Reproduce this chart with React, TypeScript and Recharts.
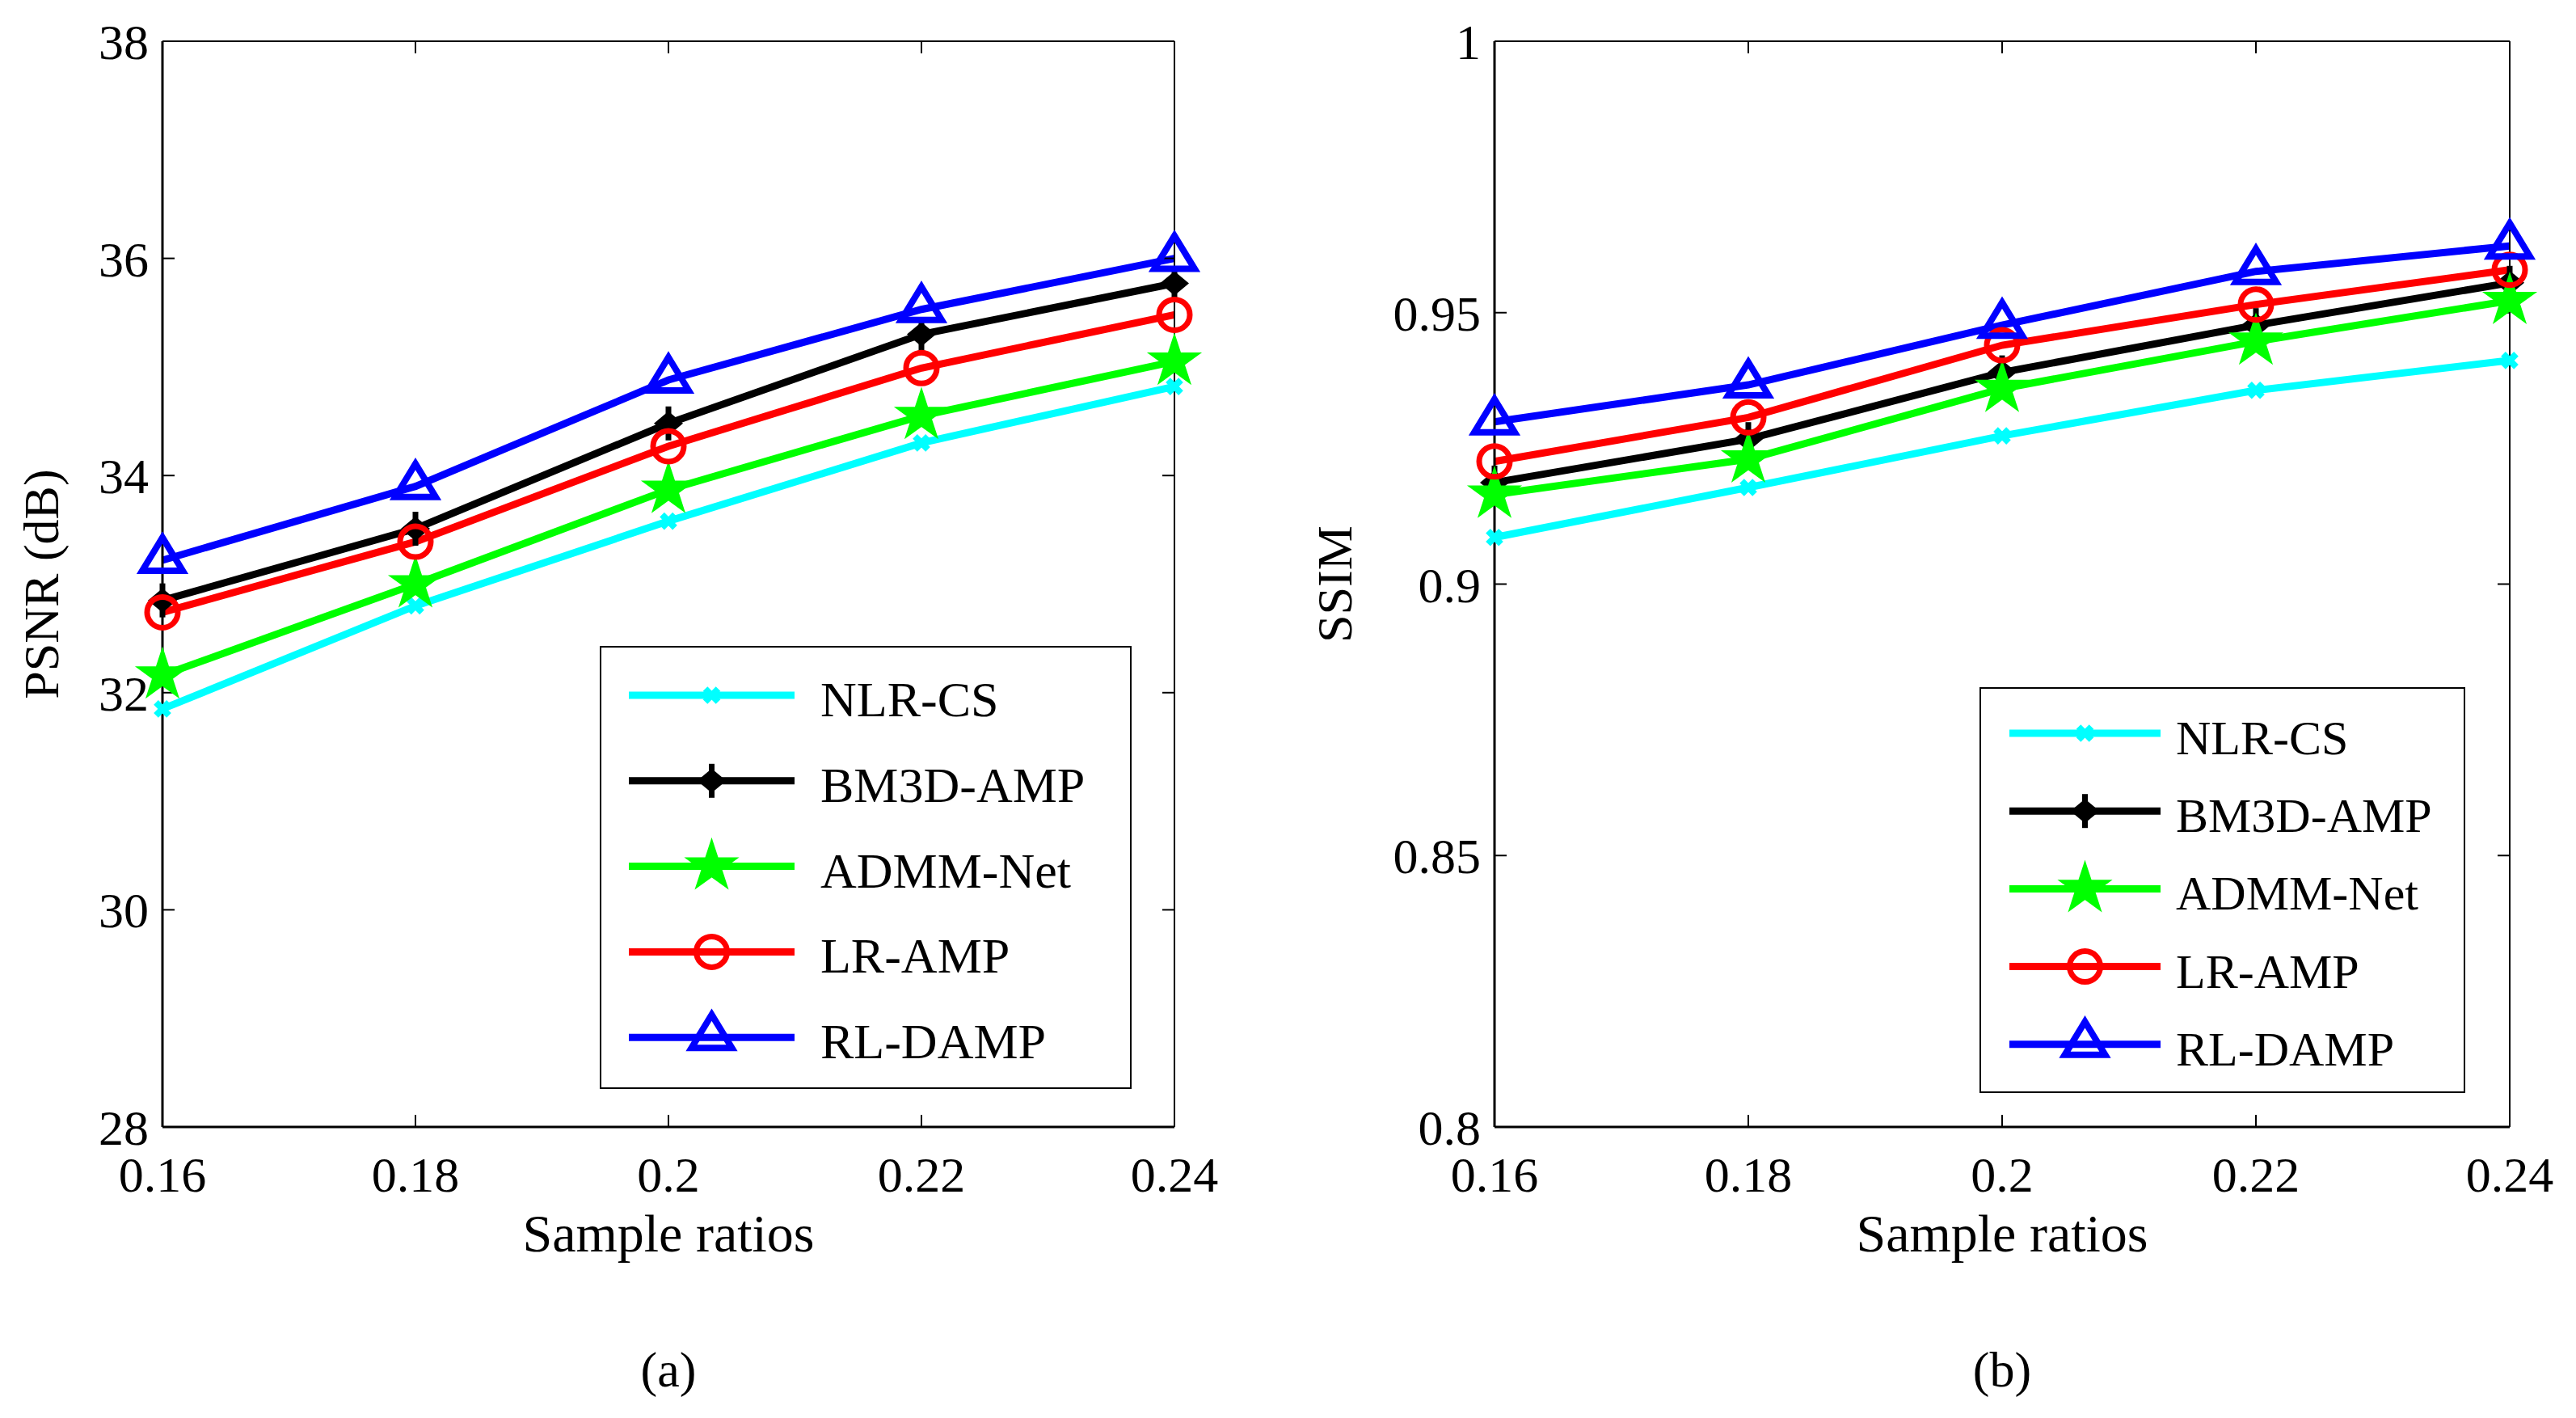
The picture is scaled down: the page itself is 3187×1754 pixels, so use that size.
import React from "react";
import { LineChart, Line, XAxis, YAxis, Legend } from "recharts";

const FONT = '"Liberation Serif", "Times New Roman", serif';

const ratios = [0.16, 0.18, 0.2, 0.22, 0.24];

// PSNR (dB) per sample ratio
const psnrNlrCs = [31.85, 32.8, 33.58, 34.3, 34.82];
const psnrBm3dAmp = [32.85, 33.51, 34.48, 35.3, 35.77];
const psnrAdmmNet = [32.16, 33.0, 33.87, 34.55, 35.05];
const psnrLrAmp = [32.74, 33.39, 34.27, 34.99, 35.48];
const psnrRlDamp = [33.22, 33.9, 34.88, 35.53, 36.0];

// SSIM per sample ratio
const ssimNlrCs = [0.9086, 0.9178, 0.9273, 0.9357, 0.9412];
const ssimBm3dAmp = [0.9187, 0.9267, 0.939, 0.9477, 0.9555];
const ssimAdmmNet = [0.9165, 0.923, 0.936, 0.9447, 0.9522];
const ssimLrAmp = [0.9226, 0.9307, 0.944, 0.9515, 0.9579];
const ssimRlDamp = [0.9299, 0.9367, 0.9477, 0.9576, 0.9623];

const psnrTicks = [28, 30, 32, 34, 36, 38];
const ssimTicks = [0.8, 0.85, 0.9, 0.95, 1];

type Shape = "x" | "diamond" | "star" | "circle" | "triangle";

const methods: { key: string; name: string; color: string; shape: Shape }[] = [
  { key: "nlr", name: "NLR-CS", color: "#00ffff", shape: "x" },
  { key: "bm3d", name: "BM3D-AMP", color: "#000000", shape: "diamond" },
  { key: "admm", name: "ADMM-Net", color: "#00ff00", shape: "star" },
  { key: "lr", name: "LR-AMP", color: "#ff0000", shape: "circle" },
  { key: "rl", name: "RL-DAMP", color: "#0000ff", shape: "triangle" },
];

const buildRows = (cols: number[][]) =>
  ratios.map((ratio, i) => {
    const row: Record<string, number> = { ratio };
    methods.forEach((m, j) => {
      row[m.key] = cols[j][i];
    });
    return row;
  });

const psnrData = buildRows([psnrNlrCs, psnrBm3dAmp, psnrAdmmNet, psnrLrAmp, psnrRlDamp]);
const ssimData = buildRows([ssimNlrCs, ssimBm3dAmp, ssimAdmmNet, ssimLrAmp, ssimRlDamp]);

function starPoints(cx: number, cy: number, R: number) {
  const r = R * 0.382;
  const pts: string[] = [];
  for (let k = 0; k < 10; k++) {
    const a = ((-90 + k * 36) * Math.PI) / 180;
    const rad = k % 2 === 0 ? R : r;
    pts.push(`${cx + rad * Math.cos(a)},${cy + rad * Math.sin(a)}`);
  }
  return pts.join(" ");
}

function Marker({ shape, cx, cy, color }: { shape: Shape; cx: number; cy: number; color: string }) {
  switch (shape) {
    case "x":
      return (
        <g stroke={color} strokeWidth={8}>
          <line x1={cx - 8} y1={cy - 8} x2={cx + 8} y2={cy + 8} />
          <line x1={cx - 8} y1={cy + 8} x2={cx + 8} y2={cy - 8} />
        </g>
      );
    case "diamond":
      return (
        <g fill={color}>
          <line x1={cx} y1={cy - 21} x2={cx} y2={cy + 21} stroke={color} strokeWidth={7} />
          <polygon points={`${cx - 18},${cy} ${cx},${cy - 15} ${cx + 18},${cy} ${cx},${cy + 15}`} />
        </g>
      );
    case "star":
      return <polygon points={starPoints(cx, cy, 31)} fill={color} stroke={color} strokeWidth={3} />;
    case "circle":
      return <circle cx={cx} cy={cy} r={19} fill="none" stroke={color} strokeWidth={7} />;
    case "triangle":
      return (
        <polygon
          points={`${cx},${cy - 28} ${cx + 25},${cy + 13} ${cx - 25},${cy + 13}`}
          fill="none"
          stroke={color}
          strokeWidth={8}
          strokeLinejoin="miter"
        />
      );
  }
  return null;
}

type LegendBox = {
  left: number;
  top: number;
  width: number;
  height: number;
  rowTop: number;
  rowGap: number;
  lineX1: number;
  lineX2: number;
  textX: number;
  fontSize: number;
};

const makeLegend = (box: LegendBox) => () => (
  <svg width={box.width} height={box.height} style={{ display: "block" }}>
    <rect x={1} y={1} width={box.width - 2} height={box.height - 2} fill="#fff" stroke="#000" strokeWidth={2} />
    {methods.map((m, i) => {
      const y = box.rowTop + i * box.rowGap;
      const mid = (box.lineX1 + box.lineX2) / 2;
      return (
        <g key={m.key}>
          <line x1={box.lineX1} x2={box.lineX2} y1={y} y2={y} stroke={m.color} strokeWidth={9} />
          <Marker shape={m.shape} cx={mid} cy={y} color={m.color} />
          <text x={box.textX} y={y + 26} fontSize={box.fontSize} fontFamily={FONT} fill="#000">
            {m.name}
          </text>
        </g>
      );
    })}
  </svg>
);

type PanelProps = {
  data: Record<string, number>[];
  yTicks: number[];
  yLabel: string;
  caption: string;
  width: number;
  yAxisWidth: number;
  margin: { top: number; right: number; bottom: number; left: number };
  labelGap: number;
  legend: LegendBox;
};

function Panel({ data, yTicks, yLabel, caption, width, yAxisWidth, margin, labelGap, legend }: PanelProps) {
  const yDomain = [yTicks[0], yTicks[yTicks.length - 1]];
  const blank = () => "";

  const xLabel = (props: any) => {
    const { x, y, width: w } = props.viewBox;
    const cx = x + w / 2;
    return (
      <g fontFamily={FONT} fill="#000" textAnchor="middle">
        <text x={cx} y={y + 154} fontSize={66}>
          Sample ratios
        </text>
        <text x={cx} y={y + 321} fontSize={62}>
          {caption}
        </text>
      </g>
    );
  };

  const yLabelContent = (props: any) => {
    const { x, y, width: w, height: h } = props.viewBox;
    const lx = x + w - labelGap;
    const cy = y + h / 2;
    return (
      <text
        x={lx}
        y={cy}
        transform={`rotate(-90 ${lx} ${cy})`}
        textAnchor="middle"
        fontSize={62}
        fontFamily={FONT}
        fill="#000"
      >
        {yLabel}
      </text>
    );
  };

  return (
    <LineChart width={width} height={1754} data={data} margin={margin}>
      <XAxis
        dataKey="ratio"
        type="number"
        domain={[0.16, 0.24]}
        ticks={ratios}
        interval={0}
        height={100}
        tickSize={-15}
        tickMargin={51}
        axisLine={{ stroke: "#000", strokeWidth: 3 }}
        tickLine={{ stroke: "#000", strokeWidth: 2 }}
        tick={{ fontSize: 62, fill: "#000", fontFamily: FONT }}
        label={xLabel}
      />
      {/* box edges with inward ticks, no labels */}
      <XAxis
        xAxisId="top"
        orientation="top"
        dataKey="ratio"
        type="number"
        domain={[0.16, 0.24]}
        ticks={ratios}
        interval={0}
        height={1}
        tickSize={-15}
        tickFormatter={blank}
        axisLine={{ stroke: "#000", strokeWidth: 2 }}
        tickLine={{ stroke: "#000", strokeWidth: 2 }}
      />
      <YAxis
        type="number"
        domain={yDomain}
        ticks={yTicks}
        interval={0}
        width={yAxisWidth}
        tickSize={-15}
        tickMargin={32}
        axisLine={{ stroke: "#000", strokeWidth: 3 }}
        tickLine={{ stroke: "#000", strokeWidth: 2 }}
        tick={{ fontSize: 62, fill: "#000", fontFamily: FONT }}
        label={yLabelContent}
      />
      <YAxis
        yAxisId="right"
        orientation="right"
        dataKey="rl"
        type="number"
        domain={yDomain}
        ticks={yTicks}
        interval={0}
        width={1}
        tickSize={-15}
        tickFormatter={blank}
        axisLine={{ stroke: "#000", strokeWidth: 2 }}
        tickLine={{ stroke: "#000", strokeWidth: 2 }}
      />
      {methods.map((m) => (
        <Line
          key={m.key}
          type="linear"
          dataKey={m.key}
          name={m.name}
          stroke={m.color}
          strokeWidth={9}
          isAnimationActive={false}
          activeDot={false}
          dot={(p: any) => <Marker key={`${m.key}-${p.index}`} shape={m.shape} cx={p.cx} cy={p.cy} color={m.color} />}
        />
      ))}
      <Legend
        layout="horizontal"
        align="center"
        verticalAlign="middle"
        content={makeLegend(legend)}
        wrapperStyle={{
          left: legend.left,
          top: legend.top,
          right: "auto",
          bottom: "auto",
          width: legend.width,
          height: legend.height,
        }}
      />
    </LineChart>
  );
}

export default function App() {
  return (
    <div style={{ position: "absolute", left: 0, top: 0, width: 3187, height: 1754, background: "#fff" }}>
      <div style={{ position: "absolute", left: 0, top: 0 }}>
        <Panel
          data={psnrData}
          yTicks={psnrTicks}
          yLabel="PSNR (dB)"
          caption="(a)"
          width={1600}
          yAxisWidth={140}
          margin={{ top: 50, right: 146, bottom: 260, left: 61 }}
          labelGap={129}
          legend={{
            left: 742,
            top: 799,
            width: 658,
            height: 548,
            rowTop: 61,
            rowGap: 105.8,
            lineX1: 36,
            lineX2: 241,
            textX: 273,
            fontSize: 62,
          }}
        />
      </div>
      <div style={{ position: "absolute", left: 1600, top: 0 }}>
        <Panel
          data={ssimData}
          yTicks={ssimTicks}
          yLabel="SSIM"
          caption="(b)"
          width={1587}
          yAxisWidth={160}
          margin={{ top: 50, right: 81, bottom: 260, left: 89 }}
          labelGap={177}
          legend={{
            left: 849,
            top: 850,
            width: 601,
            height: 502,
            rowTop: 57,
            rowGap: 96.2,
            lineX1: 37,
            lineX2: 224,
            textX: 243,
            fontSize: 60,
          }}
        />
      </div>
    </div>
  );
}
